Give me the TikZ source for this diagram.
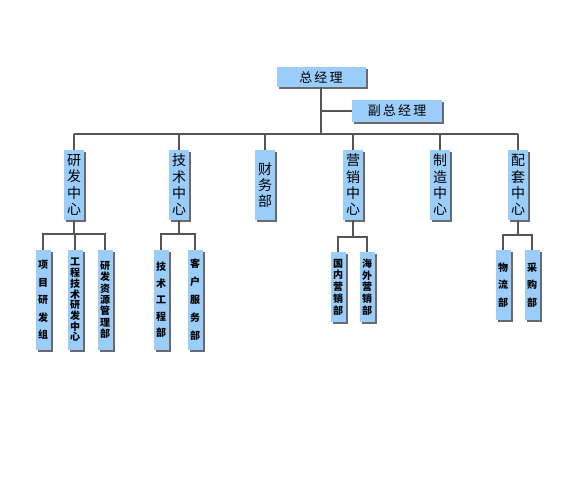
\documentclass[tikz,border=0pt]{standalone}
\usepackage{fontspec}
\newfontfamily\cjk{Noto Sans CJK SC}
\usetikzlibrary{shadows}
\definecolor{boxblue}{RGB}{155,205,250}
\definecolor{shadowgray}{RGB}{105,105,110}
\definecolor{linegray}{RGB}{85,85,85}
\tikzset{
  box/.style={draw=none, fill=boxblue, inner sep=0pt, align=center,
    drop shadow={shadow xshift=2pt, shadow yshift=-2pt, fill=shadowgray, opacity=1}},
  topbox/.style={box, minimum height=20pt, font=\cjk\fontsize{13pt}{13pt}\selectfont},
  midbox/.style={box, minimum width=20pt, minimum height=70pt},
  lowbox/.style={box, minimum width=15pt},
  conn/.style={draw=linegray, line width=2pt}
}
\begin{document}
\begin{tikzpicture}[x=1pt,y=-1pt]
\useasboundingbox (0,0) rectangle (564,484);
% top
\node[topbox, minimum width=89pt] (zjl) at (321,77) {总\,经\,理};
\node[topbox, minimum width=90pt, minimum height=21pt] (fzjl) at (397,111) {副\,总\,经\,理};
% level 2
\node[midbox, font=\cjk\fontsize{14pt}{16.3pt}\selectfont] (yf) at (74,185) {研\\发\\中\\心};
\node[midbox, font=\cjk\fontsize{14pt}{16.3pt}\selectfont] (js) at (179,185) {技\\术\\中\\心};
\node[midbox, font=\cjk\fontsize{14pt}{16pt}\selectfont] (cw) at (265,185) {财\\务\\部};
\node[midbox, font=\cjk\fontsize{14pt}{16.3pt}\selectfont] (yx) at (353,185) {营\\销\\中\\心};
\node[midbox, font=\cjk\fontsize{14pt}{16.3pt}\selectfont] (zz) at (440,185) {制\\造\\中\\心};
\node[midbox, font=\cjk\fontsize{14pt}{16.3pt}\selectfont] (pt) at (518,185) {配\\套\\中\\心};
% level 3
\node[lowbox, minimum height=100pt, font=\cjk\bfseries\fontsize{10pt}{17.5pt}\selectfont] (xm) at (43,300) {项\\目\\研\\发\\组};
\node[lowbox, minimum height=100pt, font=\cjk\bfseries\fontsize{10pt}{10.7pt}\selectfont] (gc) at (75,300) {工\\程\\技\\术\\研\\发\\中\\心};
\node[lowbox, minimum height=100pt, font=\cjk\bfseries\fontsize{10pt}{11.3pt}\selectfont] (zy) at (105,300) {研\\发\\资\\源\\管\\理\\部};
\node[lowbox, minimum height=100pt, font=\cjk\bfseries\fontsize{10pt}{16.5pt}\selectfont] (jsgc) at (161,300) {技\\术\\工\\程\\部};
\node[lowbox, minimum height=100pt, font=\cjk\bfseries\fontsize{10pt}{18pt}\selectfont] (kh) at (195,300) {客\\户\\服\\务\\部};
\node[lowbox, minimum height=70pt, font=\cjk\bfseries\fontsize{10pt}{11.8pt}\selectfont] (gn) at (338,287) {国\\内\\营\\销\\部};
\node[lowbox, minimum height=70pt, font=\cjk\bfseries\fontsize{10pt}{11.8pt}\selectfont] (hw) at (367,287) {海\\外\\营\\销\\部};
\node[lowbox, minimum height=70pt, font=\cjk\bfseries\fontsize{10pt}{17.5pt}\selectfont] (wl) at (503,285) {物\\流\\部};
\node[lowbox, minimum height=70pt, font=\cjk\bfseries\fontsize{10pt}{17.5pt}\selectfont] (cg) at (532,285) {采\\购\\部};
% bar coordinates
\coordinate (bar) at (0,134);
\coordinate (bar1) at (0,234);
\coordinate (bar2) at (0,234);
\coordinate (bar3) at (0,237);
\coordinate (bar4) at (0,235);
% connectors top
\draw[conn] (zjl.south) -- (zjl.south |- bar);
\draw[conn] (fzjl.west) -- (fzjl.west -| zjl.south);
\draw[conn] (yf.north |- bar) -- (pt.north |- bar);
\foreach \n in {yf,js,cw,yx,zz,pt} \draw[conn] (\n.north) -- (\n.north |- bar);
% group 1
\draw[conn] (yf.south) -- (yf.south |- bar1);
\draw[conn] (xm.north) -- (xm.north |- bar1) -- (zy.north |- bar1) -- (zy.north);
\draw[conn] (gc.north) -- (gc.north |- bar1);
% group 2
\draw[conn] (js.south) -- (js.south |- bar2);
\draw[conn] (jsgc.north) -- (jsgc.north |- bar2) -- (kh.north |- bar2) -- (kh.north);
% group 3
\draw[conn] (yx.south) -- (yx.south |- bar3);
\draw[conn] (gn.north) -- (gn.north |- bar3) -- (hw.north |- bar3) -- (hw.north);
% group 4
\draw[conn] (pt.south) -- (pt.south |- bar4);
\draw[conn] (wl.north) -- (wl.north |- bar4) -- (cg.north |- bar4) -- (cg.north);
\end{tikzpicture}
\end{document}
